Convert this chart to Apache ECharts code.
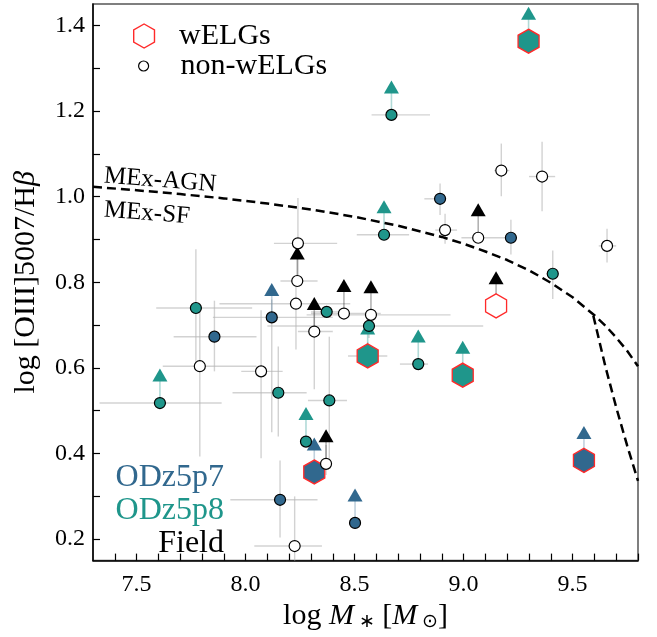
<!DOCTYPE html>
<html><head><meta charset="utf-8">
<script src="https://cdn.jsdelivr.net/npm/echarts@6/dist/echarts.min.js"></script>
<style>html,body{margin:0;padding:0;background:#fff}#c{width:657px;height:637px}</style>
</head><body><div id="c"></div><script>
// rows: [logM, logO3Hb, xLow, xHigh, yLow, yHigh, lowerLimit]
const fieldPts = [
  [8.24, 0.891, 8.13, 8.42, 0.80, 0.997, 0],
  [8.237, 0.803, 8.16, 8.33, null, null, 1],
  [8.231, 0.750, 7.88, 8.48, 0.643, 0.80, 0],
  [8.315, 0.685, 8.24, 8.40, 0.55, 0.73, 1],
  [8.451, 0.727, 8.30, 8.62, null, null, 1],
  [8.575, 0.724, 8.28, 8.94, null, null, 1],
  [7.79, 0.604, 7.62, 8.05, 0.393, 0.74, 0],
  [8.071, 0.592, 7.98, 8.17, 0.389, 0.735, 0],
  [8.369, 0.376, null, null, 0.35, 0.42, 1],
  [8.225, 0.184, 8.04, 8.35, 0.15, 0.30, 0],
  [9.173, 1.061, 9.14, 9.21, 1.001, 1.124, 0],
  [9.36, 1.047, 9.30, 9.42, 0.966, 1.128, 0],
  [8.915, 0.922, 8.87, 8.97, 0.89, 0.96, 0],
  [9.067, 0.904, 8.99, 9.19, null, null, 1],
  [9.658, 0.885, 9.62, 9.70, 0.846, 0.925, 0]
];
const odz5p7Pts = [
  [7.857, 0.673, 7.67, 8.05, 0.592, 0.757, 0],
  [8.12, 0.718, 7.85, 8.40, 0.45, 0.76, 1],
  [8.158, 0.292, 7.93, 8.33, 0.204, 0.384, 0],
  [8.502, 0.238, null, null, null, null, 1],
  [8.892, 0.995, 8.82, 8.92, 0.957, 1.031, 0],
  [9.217, 0.904, null, null, 0.865, 0.946, 0]
];
const odz5p8Pts = [
  [7.607, 0.518, 7.33, 7.89, null, null, 1],
  [7.772, 0.740, 7.59, 8.03, 0.60, 0.877, 0],
  [8.15, 0.542, 7.94, 8.28, 0.44, 0.65, 0],
  [8.384, 0.524, 8.286, 8.465, 0.379, 0.673, 0],
  [8.277, 0.428, null, null, null, null, 1],
  [8.372, 0.731, 8.30, 8.45, null, null, 0],
  [8.566, 0.698, 8.10, 9.09, 0.67, 0.72, 0],
  [8.635, 0.911, 8.51, 8.75, null, null, 1],
  [8.669, 1.191, 8.578, 8.846, null, null, 1],
  [8.792, 0.609, 8.708, 8.837, null, null, 1],
  [9.409, 0.820, 9.38, 9.43, 0.761, 0.874, 0]
];
const fieldWELG = [
  [9.149, 0.745, null, null, null, null, 1]
];
const odz5p7WELG = [
  [8.315, 0.357, null, null, null, null, 1],
  [9.552, 0.384, null, null, null, null, 1]
];
const odz5p8WELG = [
  [8.56, 0.628, 8.47, 8.65, 0.60, 0.66, 1],
  [8.996, 0.583, null, null, null, null, 1],
  [9.298, 1.363, null, null, null, null, 1]
];
// MEx demarcation
const mexUpper = [[7.3,1.023],[7.5,1.015],[7.7,1.006],[7.9,0.996],[8.1,0.984],[8.3,0.970],[8.5,0.953],[8.7,0.932],[8.9,0.906],[9.0,0.890],[9.1,0.872],[9.2,0.852],[9.3,0.828],[9.4,0.799],[9.5,0.765],[9.6,0.723],[9.65,0.699],[9.7,0.671],[9.75,0.640],[9.8,0.604]];
const mexLower = [[9.595,0.722],[9.65,0.604],[9.7,0.508],[9.75,0.419],[9.8,0.336]];
const xTicks = [7.4,7.5,7.6,7.7,7.8,7.9,8.0,8.1,8.2,8.3,8.4,8.5,8.6,8.7,8.8,8.9,9.0,9.1,9.2,9.3,9.4,9.5,9.6,9.7,9.8];
const xLabels = [7.5,8.0,8.5,9.0,9.5];
const yTicks = [0.2,0.3,0.4,0.5,0.6,0.7,0.8,0.9,1.0,1.1,1.2,1.3,1.4];
const yLabels = [0.2,0.4,0.6,0.8,1.0,1.2,1.4];

const C7 = '#31688e', C8 = '#1f968b', CF = '#000000';
const FONT = 'Liberation Serif';
const HEX = 'path://M0,-10L8.66,-5L8.66,5L0,10L-8.66,5L-8.66,-5Z';

const allRows = [].concat(fieldPts, odz5p7Pts, odz5p8Pts, fieldWELG, odz5p7WELG, odz5p8WELG);
const errSegs = [];
allRows.forEach(r => {
  if (r[2] !== null) errSegs.push([r[2], r[1], r[3], r[1]]);
  if (r[4] !== null) errSegs.push([r[0], r[4], r[0], r[5]]);
});
const arrowRows = [];
[[fieldPts,0],[fieldWELG,0],[odz5p7Pts,1],[odz5p7WELG,1],[odz5p8Pts,2],[odz5p8WELG,2]].forEach(([arr, g]) => {
  arr.forEach(r => { if (r[6]) arrowRows.push([r[0], r[1], g]); });
});
const arrowColors = ['rgba(0,0,0,0.3)', 'rgba(49,104,142,0.3)', 'rgba(31,150,139,0.35)'];
const xy = arr => arr.map(r => [r[0], r[1]]);
const ll = arr => arr.filter(r => r[6]).map(r => [r[0], r[1]]);

const chart = echarts.init(document.getElementById('c'), null, {renderer: 'canvas'});
const circ = (name, data, color) => ({
  name, type: 'scatter', data: xy(data), symbol: 'circle', symbolSize: 11, z: 6,
  itemStyle: {color, borderColor: '#000', borderWidth: 1.2, opacity: 1}, silent: true
});
const hex = (name, data, color) => ({
  name, type: 'scatter', data: xy(data), symbol: HEX, symbolSize: [21, 24], z: 5,
  itemStyle: {color, borderColor: '#ff2a2a', borderWidth: 1.4, opacity: 1}, silent: true
});
const tri = (name, data, color) => ({
  name, type: 'scatter', data: ll(data), symbol: 'triangle', symbolSize: [15, 13],
  symbolOffset: [0, -28], z: 4, itemStyle: {color, opacity: 1}, silent: true
});

chart.setOption({
  animation: false,
  backgroundColor: '#fff',
  grid: {left: 93, right: 19, top: 4, bottom: 70, show: true, borderColor: '#555', borderWidth: 1.5, backgroundColor: 'transparent'},
  xAxis: {
    type: 'value', min: 7.3, max: 9.8,
    axisLine: {show: true, onZero: false, lineStyle: {color: '#000', width: 1.5}},
    axisTick: {show: true, inside: true, length: 7, customValues: xTicks, lineStyle: {color: '#000', width: 1.2}},
    axisLabel: {customValues: xLabels, formatter: v => v.toFixed(1), fontFamily: FONT, fontSize: 24, color: '#000', margin: 12},
    splitLine: {show: false},
    name: '{n|log }{i|M}{s| ∗}{n| [}{i|M}{s| ⊙}{n|]}',
    nameLocation: 'middle', nameGap: 34,
    nameTextStyle: {
      rich: {
        n: {fontFamily: FONT, fontSize: 30, color: '#000'},
        i: {fontFamily: FONT, fontSize: 30, fontStyle: 'italic', color: '#000'},
        s: {fontFamily: FONT, fontSize: 19, color: '#000', padding: [12, 0, 0, 0]}
      }
    }
  },
  yAxis: {
    type: 'value', min: 0.15, max: 1.45,
    axisLine: {show: true, onZero: false, lineStyle: {color: '#000', width: 1.5}},
    axisTick: {show: true, inside: true, length: 7, customValues: yTicks, lineStyle: {color: '#000', width: 1.2}},
    axisLabel: {customValues: yLabels, formatter: v => v.toFixed(1), fontFamily: FONT, fontSize: 24, color: '#000', margin: 8},
    splitLine: {show: false},
    name: '{n|log [OIII]5007/H}{i|β}',
    nameLocation: 'middle', nameGap: 52,
    nameTextStyle: {
      rich: {
        n: {fontFamily: FONT, fontSize: 30, color: '#000'},
        i: {fontFamily: FONT, fontSize: 30, fontStyle: 'italic', color: '#000'}
      }
    }
  },
  legend: [
    {
      data: [{name: 'wELGs', icon: HEX, itemStyle: {color: '#fff', borderColor: '#ff2a2a', borderWidth: 1.4}}],
      left: 133, top: 21, itemWidth: 22, itemHeight: 24, selectedMode: false, orient: 'vertical', padding: 0,
      textStyle: {fontFamily: FONT, fontSize: 30, color: '#000', padding: [0, 0, 12, 19]}
    },
    {
      data: [{name: 'non-wELGs', icon: 'circle', itemStyle: {color: '#fff', borderColor: '#000', borderWidth: 1.2}}],
      left: 138, top: 51, itemWidth: 10, itemHeight: 10, selectedMode: false, orient: 'vertical', padding: 0,
      textStyle: {fontFamily: FONT, fontSize: 30, color: '#000', padding: [0, 0, 14, 27]}
    }
  ],
  graphic: [
    {type: 'text', x: 104, y: 176, rotation: -4.5 * Math.PI / 180, silent: true,
     style: {text: 'MEx-AGN', font: '25px "Liberation Serif"', fill: '#000', align: 'left', verticalAlign: 'middle'}},
    {type: 'text', x: 104, y: 210, rotation: -4.5 * Math.PI / 180, silent: true,
     style: {text: 'MEx-SF', font: '25px "Liberation Serif"', fill: '#000', align: 'left', verticalAlign: 'middle'}},
    {type: 'text', x: 224, y: 478, silent: true,
     style: {text: 'ODz5p7', font: '32px "Liberation Serif"', fill: C7, align: 'right', verticalAlign: 'middle'}},
    {type: 'text', x: 224, y: 511, silent: true,
     style: {text: 'ODz5p8', font: '32px "Liberation Serif"', fill: C8, align: 'right', verticalAlign: 'middle'}},
    {type: 'text', x: 224, y: 544, silent: true,
     style: {text: 'Field', font: '32px "Liberation Serif"', fill: '#000', align: 'right', verticalAlign: 'middle'}}
  ],
  series: [
    {
      type: 'custom', name: 'err', data: errSegs, z: 1, silent: true,
      encode: {x: [0, 2], y: [1, 3]},
      renderItem: (params, api) => {
        const p1 = api.coord([api.value(0), api.value(1)]);
        const p2 = api.coord([api.value(2), api.value(3)]);
        return {type: 'line', shape: {x1: p1[0], y1: p1[1], x2: p2[0], y2: p2[1]},
                style: {stroke: 'rgba(180,180,180,0.6)', lineWidth: 1.4}};
      }
    },
    {
      type: 'custom', name: 'arrows', data: arrowRows, z: 2, silent: true,
      encode: {x: 0, y: 1},
      renderItem: (params, api) => {
        const p = api.coord([api.value(0), api.value(1)]);
        return {type: 'line', shape: {x1: p[0], y1: p[1], x2: p[0], y2: p[1] - 23},
                style: {stroke: arrowColors[api.value(2)], lineWidth: 1.6}};
      }
    },
    {type: 'line', name: 'MEx upper', data: mexUpper, showSymbol: false, symbol: 'none', z: 3, silent: true,
     lineStyle: {color: '#000', width: 2.5, type: [9, 5]}},
    {type: 'line', name: 'MEx lower', data: mexLower, showSymbol: false, symbol: 'none', z: 3, silent: true,
     lineStyle: {color: '#000', width: 2.5, type: [9, 5]}},
    tri('ll field', [].concat(fieldPts, fieldWELG), CF),
    tri('ll 5p7', [].concat(odz5p7Pts, odz5p7WELG), C7),
    tri('ll 5p8', [].concat(odz5p8Pts, odz5p8WELG), C8),
    hex('wELGs', fieldWELG, '#fff'),
    hex('wELGs 5p7', odz5p7WELG, C7),
    hex('wELGs 5p8', odz5p8WELG, C8),
    circ('non-wELGs', fieldPts, '#fff'),
    circ('ODz5p7 pts', odz5p7Pts, C7),
    circ('ODz5p8 pts', odz5p8Pts, C8)
  ]
});
</script></body></html>
